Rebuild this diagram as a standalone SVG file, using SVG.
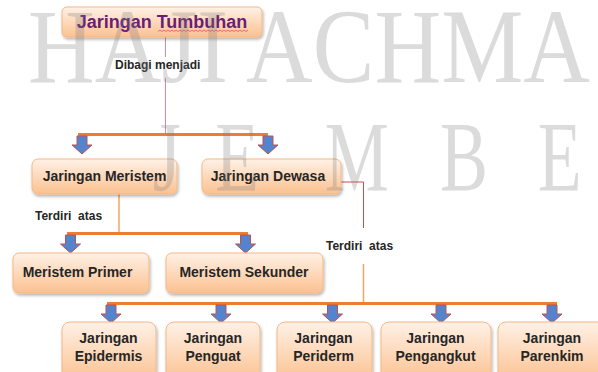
<svg xmlns="http://www.w3.org/2000/svg" width="598" height="372" viewBox="0 0 598 372">
<defs>
  <linearGradient id="boxfill" x1="0" y1="0" x2="0" y2="1">
    <stop offset="0" stop-color="#fff1e6"/>
    <stop offset="0.5" stop-color="#fdd9bb"/>
    <stop offset="1" stop-color="#fbc190"/>
  </linearGradient>
  <filter id="shadow" x="-10%" y="-10%" width="120%" height="140%">
    <feDropShadow dx="1" dy="2" stdDeviation="1.5" flood-color="#000" flood-opacity="0.3"/>
  </filter>
  <path id="arrow" d="M-5,0 H5 V9 H10 L0,18 L-10,9 H-5 Z"/>
</defs>
<style>
  .box { fill: url(#boxfill); stroke: #f5b886; stroke-width: 1; filter: url(#shadow); }
  .t { font-family: "Liberation Sans", Arial, sans-serif; font-weight: bold; font-size: 14px; fill: #262626; text-anchor: middle; }
  .lbl { font-family: "Liberation Sans", Arial, sans-serif; font-weight: bold; font-size: 12px; fill: #262626; }
  .bar { stroke: #ed7d31; stroke-width: 3; fill: none; }
  .ar { fill: #5584cf; stroke: #c0504d; stroke-width: 1; }
  .wm { font-family: "Liberation Serif", "Times New Roman", serif; fill: #7f7f7f; fill-opacity: 0.28; }
</style>
<rect width="598" height="372" fill="#ffffff"/>

<g id="connectors">
  <line x1="165.5" y1="37" x2="165.5" y2="57" stroke="#e0899a" stroke-width="1"/>
  <line x1="165.5" y1="78" x2="165.5" y2="134" stroke="#e0899a" stroke-width="1"/>
  <line class="bar" x1="78" y1="134.5" x2="268" y2="134.5"/>
  <use href="#arrow" class="ar" x="82" y="136"/>
  <use href="#arrow" class="ar" x="268" y="136"/>
  <text class="lbl" x="115" y="69">Dibagi menjadi</text>

  <line x1="119" y1="194" x2="119" y2="233" stroke="#f4a460" stroke-width="1.5"/>
  <line class="bar" x1="67" y1="233.5" x2="248" y2="233.5"/>
  <use href="#arrow" class="ar" x="70.5" y="235"/>
  <use href="#arrow" class="ar" x="245.5" y="235"/>
  <text class="lbl" x="35" y="220" xml:space="preserve">Terdiri  atas</text>

  <polyline points="341,182 363.5,182 363.5,228" fill="none" stroke="#c0504d" stroke-width="1"/>
  <line x1="363.5" y1="264" x2="363.5" y2="303" stroke="#f4a460" stroke-width="1.5"/>
  <line class="bar" x1="107" y1="303.5" x2="557" y2="303.5"/>
  <use href="#arrow" class="ar" x="111" y="305"/>
  <use href="#arrow" class="ar" x="221" y="305"/>
  <use href="#arrow" class="ar" x="332.5" y="305"/>
  <use href="#arrow" class="ar" x="441" y="305"/>
  <use href="#arrow" class="ar" x="552" y="305"/>
  <text class="lbl" x="326" y="250" xml:space="preserve">Terdiri  atas</text>
</g>

<g id="jaringan-tumbuhan">
  <rect class="box" x="62" y="7" width="200" height="30" rx="5"/>
  <text class="t" x="162" y="28" style="font-size:18px;fill:#6b1e73">Jaringan Tumbuhan</text>
  <path d="M158,31.5 l2,-1.5 l2,1.5 l2,-1.5 l2,1.5 l2,-1.5 l2,1.5 l2,-1.5 l2,1.5 l2,-1.5 l2,1.5 l2,-1.5 l2,1.5 l2,-1.5 l2,1.5 l2,-1.5 l2,1.5 l2,-1.5 l2,1.5 l2,-1.5 l2,1.5 l2,-1.5 l2,1.5 l2,-1.5 l2,1.5 l2,-1.5 l2,1.5 l2,-1.5 l2,1.5 l2,-1.5 l2,1.5 l2,-1.5 l2,1.5 l2,-1.5 l2,1.5 l2,-1.5 l2,1.5 l2,-1.5 l2,1.5 l2,-1.5 l2,1.5 l2,-1.5 l2,1.5 l2,-1.5 l2,1.5 l2,-1.5" fill="none" stroke="#e0405a" stroke-width="0.7"/>
</g>

<g id="jaringan-meristem">
  <rect class="box" x="32" y="159" width="145" height="35" rx="6"/>
  <text class="t" x="104.5" y="181">Jaringan Meristem</text>
</g>
<g id="jaringan-dewasa">
  <rect class="box" x="202" y="159" width="139" height="35" rx="6"/>
  <text class="t" x="268" y="181">Jaringan Dewasa</text>
</g>

<g id="meristem-primer">
  <rect class="box" x="13" y="253" width="136" height="40" rx="6"/>
  <text class="t" x="77.5" y="277">Meristem Primer</text>
</g>
<g id="meristem-sekunder">
  <rect class="box" x="166" y="253" width="157" height="40" rx="6"/>
  <text class="t" x="244" y="277">Meristem Sekunder</text>
</g>

<g id="jaringan-epidermis">
  <rect class="box" x="62" y="322" width="94" height="60" rx="8"/>
  <text class="t" x="108.5" y="343">Jaringan</text>
  <text class="t" x="108.5" y="361">Epidermis</text>
</g>
<g id="jaringan-penguat">
  <rect class="box" x="166" y="322" width="94" height="60" rx="8"/>
  <text class="t" x="213" y="343">Jaringan</text>
  <text class="t" x="213" y="361">Penguat</text>
</g>
<g id="jaringan-periderm">
  <rect class="box" x="277" y="322" width="95" height="60" rx="8"/>
  <text class="t" x="323.5" y="343">Jaringan</text>
  <text class="t" x="323.5" y="361">Periderm</text>
</g>
<g id="jaringan-pengangkut">
  <rect class="box" x="381" y="322" width="110" height="60" rx="8"/>
  <text class="t" x="435.5" y="343">Jaringan</text>
  <text class="t" x="435.5" y="361">Pengangkut</text>
</g>
<g id="jaringan-parenkim">
  <rect class="box" x="498" y="322" width="108" height="60" rx="8"/>
  <text class="t" x="552" y="343">Jaringan</text>
  <text class="t" x="552" y="361">Parenkim</text>
</g>

<g id="watermark">
  <text class="wm" x="28" y="82" font-size="106" textLength="562" lengthAdjust="spacingAndGlyphs">HAJI ACHMA</text>
  <g transform="scale(0.72,1)">
    <text class="wm" x="212 299 451 611 747" y="190" font-size="100">JEMBE</text>
  </g>
</g>
</svg>
